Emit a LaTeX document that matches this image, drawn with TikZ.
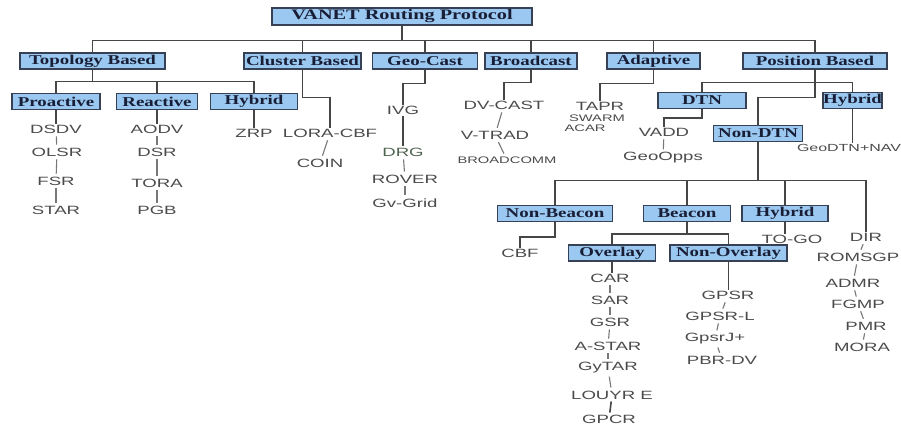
\documentclass[tikz,border=0pt]{standalone}
\usepackage{fontspec}
\newfontfamily\boxfont{Liberation Serif}[FakeStretch=1.4]
\newfontfamily\listfont{Liberation Sans}[FakeStretch=1.55]
\definecolor{boxfill}{RGB}{155,200,240}
\definecolor{boxline}{RGB}{55,65,85}
\definecolor{boxtext}{RGB}{25,30,55}
\definecolor{linecol}{RGB}{70,70,70}
\definecolor{tickcol}{RGB}{120,120,120}
\definecolor{listtext}{RGB}{75,75,75}
\definecolor{drgtext}{RGB}{80,100,80}
\tikzset{
  cat/.style={draw=boxline, fill=boxfill, line width=1.2pt, text=boxtext,
    font=\boxfont\bfseries\fontsize{13.5}{14}\selectfont, minimum height=16pt, inner sep=0pt},
  proto/.style={text=listtext, font=\listfont\fontsize{12}{12}\selectfont, inner sep=1pt},
  sproto/.style={proto, font=\listfont\fontsize{9.5}{10}\selectfont},
  link/.style={draw=linecol, line width=1.6pt},
  tick/.style={draw=tickcol, line width=1.1pt, shorten <=2pt, shorten >=2pt},
}
\begin{document}
\begin{tikzpicture}[x=1pt, y=-1pt]
  \useasboundingbox[fill=white] (0,0) rectangle (901,431);
  %nodes
  \node[cat, minimum width=260pt, minimum height=17pt, font=\boxfont\bfseries\fontsize{14.5}{15}\selectfont] at (402,16.5) (root) {VANET Routing Protocol};
  \node[cat, minimum width=145pt] at (92.5,61) (topo) {Topology Based};
  \node[cat, minimum width=117pt] at (302.5,61) (clus) {Cluster Based};
  \node[cat, minimum width=105pt] at (425,61) (geo) {Geo-Cast};
  \node[cat, minimum width=92pt] at (531,61) (bcast) {Broadcast};
  \node[cat, minimum width=93pt] at (653.5,61) (adapt) {Adaptive};
  \node[cat, minimum width=144pt] at (815,61) (pos) {Position Based};
  % topology based
  \node[cat, minimum width=88pt] at (56,101.5) (proact) {Proactive};
  \node[cat, minimum width=81pt] at (157,101.5) (react) {Reactive};
  \node[cat, minimum width=87pt] at (254,101.5) (thyb) {Hybrid};
  \node[proto] at (56,129) (dsdv) {DSDV};
  \node[proto] at (57,152) (olsr) {OLSR};
  \node[proto] at (56,181) (fsr) {FSR};
  \node[proto] at (56,210) (star) {STAR};
  \node[proto] at (157,129) (aodv) {AODV};
  \node[proto] at (157,152) (dsr) {DSR};
  \node[proto] at (157,183) (tora) {TORA};
  \node[proto] at (157,210) (pgb) {PGB};
  \node[proto] at (254,133) (zrp) {ZRP};
  % cluster, geo-cast, broadcast, adaptive
  \node[proto] at (330,133) (lora) {LORA-CBF};
  \node[proto] at (320,163) (coin) {COIN};
  \node[proto] at (403,110) (ivg) {IVG};
  \node[proto, text=drgtext] at (403,152) (drg) {DRG};
  \node[proto] at (405,179) (rover) {ROVER};
  \node[proto] at (405,203) (gvgrid) {Gv-Grid};
  \node[proto] at (504,105) (dvcast) {DV-CAST};
  \node[proto] at (495,135) (vtrad) {V-TRAD};
  \node[sproto] at (507,160) (bcomm) {BROADCOMM};
  \node[proto] at (600,106) (tapr) {TAPR};
  \node[sproto] at (597,118) (swarm) {SWARM};
  \node[sproto] at (585,128) (acar) {ACAR};
  % position based
  \node[cat, minimum width=88pt] at (702,100.5) (dtn) {DTN};
  \node[cat, minimum width=59pt] at (852.5,100.5) (phyb) {Hybrid};
  \node[cat, minimum width=89pt] at (758,133.5) (nondtn) {Non-DTN};
  \node[proto] at (664,132) (vadd) {VADD};
  \node[proto] at (663,158) (geoopps) {GeoOpps};
  \node[sproto, font=\listfont\fontsize{10.3}{11}\selectfont] at (849,148) (geodtn) {GeoDTN+NAV};
  \node[cat, minimum width=115pt] at (555,213.5) (nbeacon) {Non-Beacon};
  \node[cat, minimum width=87pt] at (687,213.5) (beacon) {Beacon};
  \node[cat, minimum width=86pt] at (785,213.5) (nhyb) {Hybrid};
  \node[proto] at (520,253) (cbf) {CBF};
  \node[proto] at (792,239) (togo) {TO-GO};
  \node[proto] at (866,237) (dir) {DIR};
  \node[proto] at (858,257) (romsgp) {ROMSGP};
  \node[proto] at (853,283) (admr) {ADMR};
  \node[proto] at (858,304) (fgmp) {FGMP};
  \node[proto] at (866,326) (pmr) {PMR};
  \node[proto] at (862,347) (mora) {MORA};
  \node[cat, minimum width=87pt] at (612,253) (overlay) {Overlay};
  \node[cat, minimum width=117pt] at (728.5,253) (nonov) {Non-Overlay};
  \node[proto] at (610,278) (car) {CAR};
  \node[proto] at (610,300) (sar) {SAR};
  \node[proto] at (610,322) (gsr) {GSR};
  \node[proto] at (608,346) (astar) {A-STAR};
  \node[proto] at (608,368) (gytar) {GyTAR};
  \node[proto] at (612,395) (louyre) {LOUYR E};
  \node[proto] at (609,419) (gpcr) {GPCR};
  \node[proto] at (728,295) (gpsr) {GPSR};
  \node[proto] at (720,316) (gpsrl) {GPSR-L};
  \node[proto] at (715,339) (gpsrj) {GpsrJ+};
  \node[proto] at (722,360) (pbrdv) {PBR-DV};
  % tree lines
  \foreach \c in {topo,clus,geo,bcast,adapt,pos}
    \draw[link] (root.south) -- ++(0,15) -| (\c.north);
  \foreach \c in {proact,react,thyb}
    \draw[link] (topo.south) -- ++(0,12) -| (\c.north);
  \draw[link] (proact.south) -- (dsdv.north);
  \draw[link] (react.south) -- (aodv.north);
  \draw[link] (thyb.south) -- (zrp.north);
  \draw[link] (clus.south) -- ++(0,28) -| (lora.north);
  \draw[link] (geo.south) -- ++(0,14) -| (ivg.north);
  \draw[link] (bcast.south) -- ++(0,13) -| (dvcast.north);
  \draw[link] (adapt.south) -- ++(0,14) -| (tapr.north);
  \draw[link] (pos.south) -- ++(0,13) -| (dtn.north);
  \draw[link] (pos.south) -- ++(0,13) -| (phyb.north);
  \draw[link] (pos.south) -- ++(0,28) -| (nondtn.north);
  \draw[link] (dtn.south) -- ++(0,9) -| (vadd.north);
  \draw[link] (phyb.south) -- (phyb.south |- geodtn.north);
  \foreach \c in {nbeacon,beacon,nhyb,dir}
    \draw[link] (nondtn.south) -- ++(0,38.5) -| (\c.north);
  \draw[link] (nbeacon.south) -- ++(0,15) -| (cbf.north);
  \draw[link] (nhyb.south) -- (nhyb.south |- togo.north);
  \draw[link] (beacon.south) -- ++(0,12) -| (overlay.north);
  \draw[link] (beacon.south) -- ++(0,12) -| (nonov.north);
  \draw[link] (overlay.south) -- (overlay.south |- car.north);
  \draw[link] (nonov.south) -- (nonov.south |- gpsr.north);
  % ticks between protocols
  \draw[tick] (dsdv) -- (olsr); \draw[tick] (olsr) -- (fsr); \draw[tick] (fsr) -- (star);
  \draw[tick] (aodv) -- (dsr); \draw[tick] (dsr) -- (tora); \draw[tick] (tora) -- (pgb);
  \draw[tick] (lora) -- (coin);
  \draw[link, shorten <=1pt, shorten >=1pt] (ivg) -- (drg);
  \draw[tick] (drg) -- (rover); \draw[tick] (rover) -- (gvgrid);
  \draw[tick] (dvcast) -- (vtrad); \draw[tick] (vtrad) -- (bcomm);
  \draw[tick] (vadd) -- (geoopps);
  \draw[tick] (dir) -- (romsgp); \draw[tick] (romsgp) -- (admr); \draw[tick] (admr) -- (fgmp);
  \draw[tick] (fgmp) -- (pmr); \draw[tick] (pmr) -- (mora);
  \draw[tick] (car) -- (sar); \draw[tick] (sar) -- (gsr); \draw[tick] (gsr) -- (astar);
  \draw[tick] (astar) -- (gytar); \draw[tick] (gytar) -- (louyre);
  \draw[link, shorten <=1pt, shorten >=1pt] (louyre) -- (gpcr);
  \draw[tick] (gpsr) -- (gpsrl); \draw[tick] (gpsrl) -- (gpsrj); \draw[tick] (gpsrj) -- (pbrdv);
\end{tikzpicture}
\end{document}
